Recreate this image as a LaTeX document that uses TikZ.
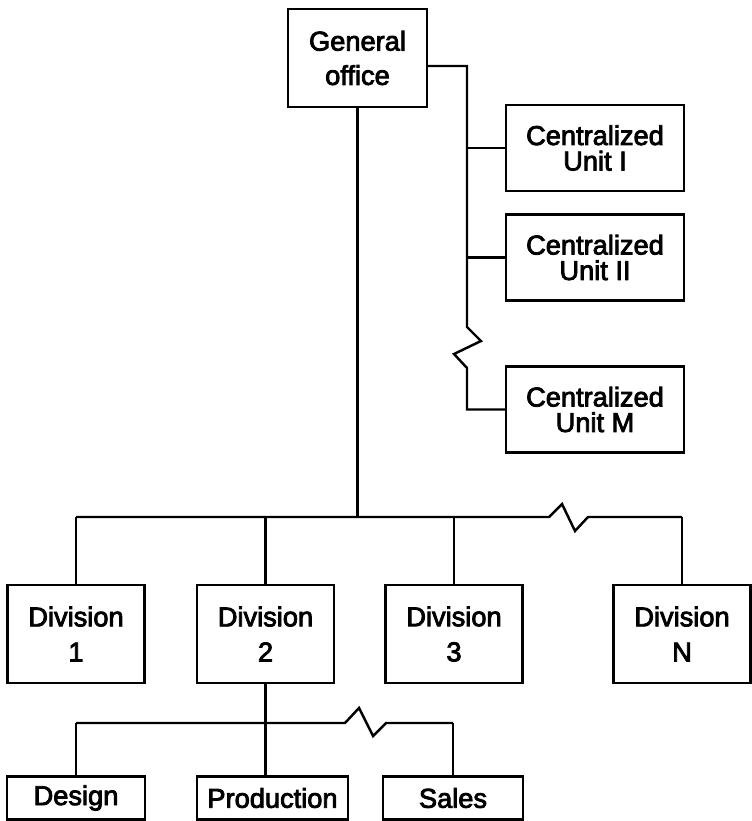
\documentclass[tikz,border=0pt]{standalone}
\usepackage{fontspec}
\setmainfont{Liberation Sans}[FakeBold=3]
\usetikzlibrary{positioning}
\tikzset{
  box/.style={draw, line width=1.4pt, inner sep=0pt, align=center,
    font=\fontsize{15.5}{19.5}\selectfont},
  genbox/.style={box, minimum width=2.78cm, minimum height=1.96cm},
  unitbox/.style={box, minimum width=3.56cm, minimum height=1.72cm,
    font=\fontsize{15.5}{14.5}\selectfont},
  divbox/.style={box, minimum width=2.74cm, minimum height=1.96cm,
    font=\fontsize{15.5}{20}\selectfont},
  leafbox/.style={box, minimum height=0.86cm},
  link/.style={line width=1.4pt, line join=miter}
}

\begin{document}
\begin{tikzpicture}[x=0.02cm, y=-0.02cm]
        \useasboundingbox (0,0) rectangle (751,821);
        % head office and centralized units
        \node[genbox] (gen) at (357.5,58) {General\\office};
        \node[unitbox] (cu1) at (595,148) {Centralized\\Unit I};
        \node[unitbox] (cu2) at (595,257.5) {Centralized\\Unit II};
        \node[unitbox] (cum) at (595,409.5) {Centralized\\Unit M};
        % divisions
        \node[divbox] (div1) at (76,634) {Division\\1};
        \node[divbox] (div2) at (265.5,634) {Division\\2};
        \node[divbox] (div3) at (454,634) {Division\\3};
        \node[divbox] (divn) at (682,634) {Division\\N};
        % functions of division 2
        \node[leafbox, minimum width=2.76cm] (design) at (76,798) {Design};
        \node[leafbox, minimum width=3.02cm] (prod) at (272.5,798) {Production};
        \node[leafbox, minimum width=2.8cm] (sales) at (453,798) {Sales};
        \coordinate (spine) at (467,0);
        \coordinate (bus) at (0,517);
        \coordinate (subbus) at (0,723);
        % staff spine with break
        \draw[link] ([yshift=-0.16cm]gen.east) -| (spine |- 0,327)
          -- ++(14,14) -- ++(-27,13) -- ++(13,14) |- (cum.west);
        \draw[link] (spine |- cu1.west) -- (cu1.west);
        \draw[link] (spine |- cu2.west) -- (cu2.west);
        % division bus with break
        \draw[link] (gen.south) -- (gen.south |- bus);
        \draw[link] (div1.north |- bus) -- (549,517) -- ++(13,-13) -- ++(13,27)
          -- ++(13,-14) -- (divn.north |- bus);
        \foreach \d in {div1,div2,div3,divn}
          \draw[link] (\d.north |- bus) -- (\d.north);
        % function bus with break
        \draw[link] (div2.south) -- (div2.south |- prod.north);
        \draw[link] (design.north |- subbus) -- (345,723) -- ++(14,-15) -- ++(14,28)
          -- ++(13,-13) -- (sales.north |- subbus);
        \draw[link] (design.north |- subbus) -- (design.north);
        \draw[link] (sales.north |- subbus) -- (sales.north);
      \end{tikzpicture}
\end{document}
